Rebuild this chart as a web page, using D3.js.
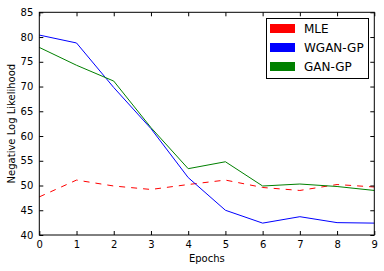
<!DOCTYPE html>
<html><head><meta charset="utf-8">
<script src="https://cdn.jsdelivr.net/npm/d3@7"></script>
<style>body{margin:0;background:#fff}svg{display:block}text{font-family:"DejaVu Sans",sans-serif}</style>
</head><body><svg id="c" width="384" height="271"></svg>
<script>
const epochs = [0,1,2,3,4,5,6,7,8,9];
const mle   = [47.7,51.1,49.9,49.2,50.2,51.1,49.6,49.0,50.2,49.7];
const wgan  = [80.4,78.8,69.8,61.5,51.6,45.0,42.4,43.7,42.5,42.4];
const gan   = [77.9,74.3,71.1,61.7,53.4,54.8,49.9,50.3,49.8,49.0];
const xTicks = [0,1,2,3,4,5,6,7,8,9];
const yTicks = [40,45,50,55,60,65,70,75,80,85];
const seriesNames = ["MLE","WGAN-GP","GAN-GP"];
const seriesColors = ["#ff0000","#0000ff","#008000"];

const svg = d3.select("#c");
const L=39.3, R=374.3, T=12.3, B=235;
const x = d3.scaleLinear().domain([0,9]).range([L,R]);
const y = d3.scaleLinear().domain([40,85]).range([B,T]);

const line = d3.line().x((d,i)=>x(epochs[i])).y(d=>y(d));
const data = [mle,wgan,gan];
data.forEach((s,k)=>{
  svg.append("path").attr("d",line(s)).attr("fill","none")
    .attr("stroke",seriesColors[k]).attr("stroke-width",1)
    .attr("stroke-dasharray",k===0?"6,6":null);
});

const fs = 10;
const gx = svg.append("g").attr("transform",`translate(0,${B})`)
  .call(d3.axisBottom(x).tickValues(xTicks).tickSizeInner(-4).tickSizeOuter(0).tickPadding(6));
const gxt = svg.append("g").attr("transform",`translate(0,${T})`)
  .call(d3.axisTop(x).tickValues(xTicks).tickSizeInner(-4).tickSizeOuter(0).tickFormat(""));
const gy = svg.append("g").attr("transform",`translate(${L},0)`)
  .call(d3.axisLeft(y).tickValues(yTicks).tickSizeInner(-4).tickSizeOuter(0).tickPadding(6));
const gyr = svg.append("g").attr("transform",`translate(${R},0)`)
  .call(d3.axisRight(y).tickValues(yTicks).tickSizeInner(-4).tickSizeOuter(0).tickFormat(""));
[gx,gxt,gy,gyr].forEach(g=>{
  g.select(".domain").remove();
  g.selectAll("line").attr("stroke","#000");
  g.selectAll("text").attr("font-size",fs).attr("fill","#000").attr("font-family","DejaVu Sans");
});
svg.append("rect").attr("x",L).attr("y",T).attr("width",R-L).attr("height",B-T)
  .attr("fill","none").attr("stroke","#000").attr("stroke-width",1);

svg.append("text").attr("x",(L+R)/2).attr("y",262).attr("text-anchor","middle")
  .attr("font-size",10).text("Epochs");
svg.append("text").attr("transform",`translate(15,${(T+B)/2}) rotate(-90)`)
  .attr("text-anchor","middle").attr("font-size",10).text("Negative Log Likelihood");

const lg = svg.append("g");
lg.append("rect").attr("x",266.5).attr("y",18.5).attr("width",102).attr("height",60)
  .attr("fill","#fff").attr("stroke","#000");
seriesNames.forEach((n,i)=>{
  const cy = 28.5 + i*19;
  lg.append("rect").attr("x",270).attr("y",cy-4.5).attr("width",25).attr("height",9).attr("fill",seriesColors[i]);
  lg.append("text").attr("x",304).attr("y",cy+4.5).attr("font-size",12).text(n);
});
</script></body></html>
